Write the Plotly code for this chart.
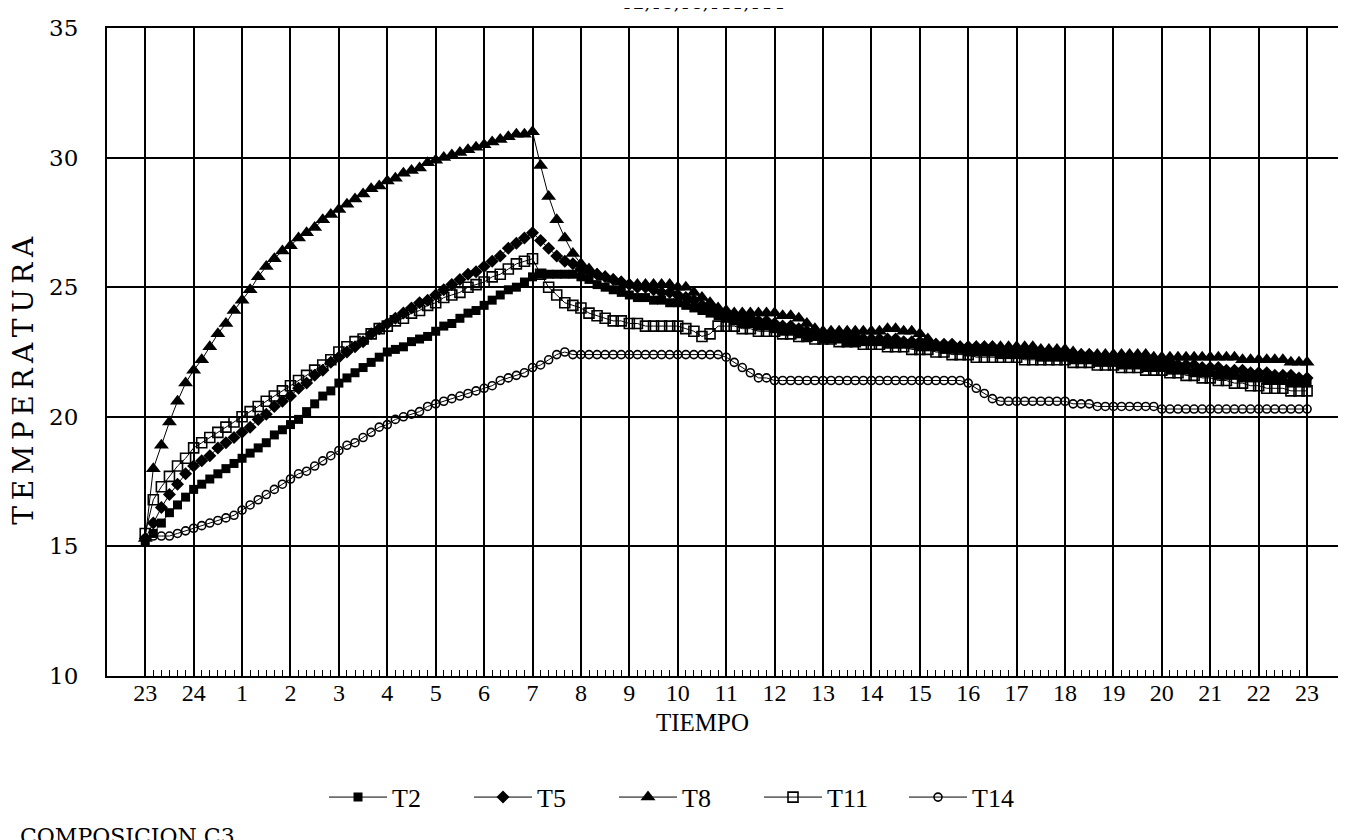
"""Temperaturas T2..T14 durante un ciclo de 24 h (lecturas cada 10 min)."""

import plotly.graph_objects as go

# lecturas cada 10 minutos desde las 23 h (145 valores, una fila por hora)
t2 = [
    15.2, 15.5, 15.9, 16.3, 16.6, 16.9,
    17.2, 17.4, 17.6, 17.8, 18.0, 18.2,
    18.4, 18.6, 18.8, 19.0, 19.3, 19.5,
    19.7, 19.9, 20.2, 20.5, 20.8, 21.0,
    21.3, 21.5, 21.7, 21.9, 22.1, 22.3,
    22.5, 22.6, 22.7, 22.9, 23.0, 23.1,
    23.3, 23.5, 23.6, 23.8, 24.0, 24.1,
    24.3, 24.5, 24.7, 24.9, 25.0, 25.2,
    25.4, 25.5, 25.5, 25.5, 25.5, 25.5,
    25.4, 25.3, 25.1, 25.0, 24.9, 24.8,
    24.7, 24.6, 24.6, 24.5, 24.5, 24.4,
    24.4, 24.3, 24.2, 24.1, 24.0, 23.9,
    23.8, 23.7, 23.6, 23.6, 23.5, 23.5,
    23.4, 23.3, 23.3, 23.2, 23.1, 23.1,
    23.0, 23.0, 23.0, 22.9, 22.9, 22.9,
    22.9, 22.9, 22.8, 22.8, 22.8, 22.8,
    22.7, 22.7, 22.7, 22.6, 22.6, 22.6,
    22.5, 22.5, 22.5, 22.5, 22.4, 22.4,
    22.4, 22.4, 22.4, 22.3, 22.3, 22.3,
    22.3, 22.2, 22.2, 22.2, 22.1, 22.1,
    22.1, 22.0, 22.0, 22.0, 21.9, 21.9,
    21.9, 21.8, 21.8, 21.8, 21.7, 21.7,
    21.7, 21.6, 21.6, 21.6, 21.5, 21.5,
    21.5, 21.4, 21.4, 21.4, 21.3, 21.3,
    21.3,
]
t5 = [
    15.3, 15.9, 16.5, 17.0, 17.4, 17.8,
    18.1, 18.3, 18.5, 18.8, 19.0, 19.2,
    19.4, 19.6, 19.9, 20.1, 20.4, 20.6,
    20.8, 21.1, 21.3, 21.6, 21.8, 22.1,
    22.3, 22.5, 22.7, 22.9, 23.2, 23.4,
    23.6, 23.8, 24.0, 24.2, 24.4, 24.5,
    24.7, 24.9, 25.1, 25.3, 25.5, 25.6,
    25.8, 26.0, 26.2, 26.5, 26.7, 26.9,
    27.1, 26.8, 26.5, 26.2, 26.0, 25.9,
    25.7, 25.6, 25.5, 25.4, 25.3, 25.2,
    25.1, 25.0, 25.0, 24.9, 24.8, 24.8,
    24.7, 24.6, 24.5, 24.3, 24.2, 24.1,
    24.0, 23.9, 23.8, 23.8, 23.7, 23.7,
    23.6, 23.5, 23.5, 23.4, 23.3, 23.3,
    23.2, 23.2, 23.1, 23.1, 23.1, 23.0,
    23.0, 23.0, 23.0, 23.0, 22.9, 22.9,
    22.9, 22.9, 22.8, 22.8, 22.8, 22.7,
    22.7, 22.7, 22.7, 22.7, 22.6, 22.6,
    22.6, 22.6, 22.6, 22.5, 22.5, 22.5,
    22.5, 22.4, 22.4, 22.4, 22.3, 22.3,
    22.3, 22.3, 22.2, 22.2, 22.2, 22.1,
    22.1, 22.1, 22.0, 22.0, 22.0, 21.9,
    21.9, 21.9, 21.8, 21.8, 21.8, 21.7,
    21.7, 21.7, 21.6, 21.6, 21.6, 21.5,
    21.5,
]
t8 = [
    15.3, 18.0, 18.9, 19.8, 20.6, 21.3,
    21.8, 22.2, 22.7, 23.2, 23.6, 24.1,
    24.5, 24.9, 25.4, 25.8, 26.1, 26.4,
    26.6, 26.9, 27.1, 27.3, 27.6, 27.8,
    28.0, 28.2, 28.4, 28.6, 28.8, 28.9,
    29.1, 29.2, 29.4, 29.5, 29.6, 29.8,
    29.9, 30.0, 30.1, 30.2, 30.3, 30.4,
    30.5, 30.6, 30.7, 30.8, 30.9, 30.9,
    31.0, 29.7, 28.5, 27.6, 26.9, 26.3,
    25.9, 25.7, 25.5, 25.4, 25.3, 25.2,
    25.1, 25.1, 25.1, 25.1, 25.1, 25.1,
    25.0, 25.0, 24.8, 24.6, 24.4, 24.2,
    24.1, 24.0, 24.0, 24.0, 24.0, 24.0,
    24.0, 23.9, 23.9, 23.8, 23.6, 23.4,
    23.3, 23.3, 23.3, 23.3, 23.3, 23.3,
    23.3, 23.3, 23.4, 23.4, 23.3, 23.3,
    23.2, 23.0, 22.8, 22.7, 22.7, 22.7,
    22.7, 22.7, 22.7, 22.7, 22.7, 22.7,
    22.7, 22.7, 22.7, 22.6, 22.6, 22.6,
    22.6, 22.5, 22.4, 22.4, 22.4, 22.4,
    22.4, 22.4, 22.4, 22.4, 22.4, 22.3,
    22.3, 22.3, 22.3, 22.3, 22.3, 22.3,
    22.3, 22.3, 22.3, 22.3, 22.2, 22.2,
    22.2, 22.2, 22.2, 22.2, 22.1, 22.1,
    22.1,
]
t11 = [
    15.5, 16.8, 17.3, 17.7, 18.1, 18.4,
    18.8, 19.0, 19.2, 19.4, 19.6, 19.8,
    20.0, 20.2, 20.4, 20.6, 20.8, 21.0,
    21.2, 21.4, 21.6, 21.8, 22.0, 22.2,
    22.5, 22.7, 22.9, 23.0, 23.2, 23.4,
    23.5, 23.7, 23.8, 24.0, 24.1, 24.3,
    24.4, 24.6, 24.7, 24.8, 25.0, 25.1,
    25.2, 25.4, 25.5, 25.7, 25.9, 26.0,
    26.1, 25.5, 25.0, 24.7, 24.4, 24.3,
    24.2, 24.0, 23.9, 23.8, 23.7, 23.7,
    23.6, 23.6, 23.5, 23.5, 23.5, 23.5,
    23.5, 23.4, 23.3, 23.1, 23.2, 23.5,
    23.5, 23.5, 23.4, 23.4, 23.3, 23.3,
    23.3, 23.2, 23.2, 23.1, 23.1, 23.0,
    23.0, 23.0, 22.9, 22.9, 22.9, 22.8,
    22.8, 22.8, 22.7, 22.7, 22.7, 22.6,
    22.6, 22.6, 22.5, 22.5, 22.4, 22.4,
    22.4, 22.3, 22.3, 22.3, 22.3, 22.3,
    22.3, 22.2, 22.2, 22.2, 22.2, 22.2,
    22.2, 22.1, 22.1, 22.1, 22.0, 22.0,
    22.0, 21.9, 21.9, 21.9, 21.8, 21.8,
    21.8, 21.7, 21.7, 21.6, 21.6, 21.5,
    21.5, 21.4, 21.4, 21.3, 21.3, 21.2,
    21.2, 21.1, 21.1, 21.1, 21.0, 21.0,
    21.0,
]
t14 = [
    15.3, 15.4, 15.4, 15.4, 15.5, 15.6,
    15.7, 15.8, 15.9, 16.0, 16.1, 16.2,
    16.4, 16.6, 16.8, 17.0, 17.2, 17.4,
    17.6, 17.8, 17.9, 18.1, 18.3, 18.5,
    18.7, 18.9, 19.0, 19.2, 19.4, 19.6,
    19.7, 19.9, 20.0, 20.1, 20.2, 20.4,
    20.5, 20.6, 20.7, 20.8, 20.9, 21.0,
    21.1, 21.2, 21.4, 21.5, 21.6, 21.7,
    21.9, 22.0, 22.2, 22.4, 22.5, 22.4,
    22.4, 22.4, 22.4, 22.4, 22.4, 22.4,
    22.4, 22.4, 22.4, 22.4, 22.4, 22.4,
    22.4, 22.4, 22.4, 22.4, 22.4, 22.4,
    22.3, 22.1, 21.9, 21.7, 21.5, 21.5,
    21.4, 21.4, 21.4, 21.4, 21.4, 21.4,
    21.4, 21.4, 21.4, 21.4, 21.4, 21.4,
    21.4, 21.4, 21.4, 21.4, 21.4, 21.4,
    21.4, 21.4, 21.4, 21.4, 21.4, 21.4,
    21.3, 21.1, 20.9, 20.7, 20.6, 20.6,
    20.6, 20.6, 20.6, 20.6, 20.6, 20.6,
    20.6, 20.5, 20.5, 20.5, 20.4, 20.4,
    20.4, 20.4, 20.4, 20.4, 20.4, 20.4,
    20.3, 20.3, 20.3, 20.3, 20.3, 20.3,
    20.3, 20.3, 20.3, 20.3, 20.3, 20.3,
    20.3, 20.3, 20.3, 20.3, 20.3, 20.3,
    20.3,
]

hour_labels = ["23", "24", "1", "2", "3", "4", "5", "6", "7", "8", "9", "10", "11",
               "12", "13", "14", "15", "16", "17", "18", "19", "20", "21", "22", "23"]
step_minutes = 10

hours = [i * step_minutes / 60 for i in range(len(t2))]

series = [
    ("T2", t2, dict(symbol="square", size=9)),
    ("T5", t5, dict(symbol="diamond", size=10)),
    ("T8", t8, dict(symbol="triangle-up", size=13)),
    ("T11", t11, dict(symbol="square-open", size=10, line=dict(width=1.6, color="black"))),
    ("T14", t14, dict(symbol="circle-open", size=8, line=dict(width=1.6, color="black"))),
]

fig = go.Figure()
for name, vals, mk in series:
    fig.add_trace(go.Scatter(
        x=hours, y=vals, name=name, mode="lines+markers",
        line=dict(color="black", width=1),
        marker=dict(color="black", **mk),
    ))

serif = "Liberation Serif, Times New Roman, serif"
wide = "DejaVu Serif, serif"
thin = "\u2009"

# la página añade 8 px de margen al body: figura algo menor para que quepa
fig.update_layout(
    width=1338, height=832,
    margin=dict(l=99, r=6, t=20, b=164, autoexpand=False),
    paper_bgcolor="white", plot_bgcolor="white",
    font=dict(family=serif, color="black", size=22),
    showlegend=True,
    legend=dict(orientation="h", x=0.176, xanchor="left", y=-0.187, yanchor="middle",
                entrywidth=72, itemwidth=58, font=dict(family=serif, size=26),
                bgcolor="rgba(0,0,0,0)"),
    annotations=[
        dict(text=thin.join("TEMPERATURA"), xref="paper", yref="paper", x=-0.0675, y=0.457,
             xanchor="center", yanchor="middle", textangle=-90, showarrow=False,
             font=dict(family=wide, size=28)),
        dict(text="TIEMPO", xref="paper", yref="paper", x=0.483, y=-0.071,
             xanchor="center", yanchor="middle", showarrow=False,
             font=dict(family=serif, size=25)),
        dict(text="T2,T5,T8,T11,T14", xref="paper", yref="paper", x=0.483, y=1 + 26 / 648,
             xanchor="center", yanchor="middle", showarrow=False,
             font=dict(family=wide, size=18)),
        dict(text="COMPOSICION C3", xref="paper", yref="paper", x=-0.0722, y=-0.2253,
             xanchor="left", yanchor="top", showarrow=False,
             font=dict(family=wide, size=22)),
    ],
)

fig.update_xaxes(
    range=[-0.79, 24.68], automargin=False,
    tickmode="array", tickvals=list(range(len(hour_labels))), ticktext=hour_labels,
    ticks="", showgrid=True, gridcolor="black", gridwidth=1.5, zeroline=False,
    showline=True, linecolor="black", linewidth=2, mirror=True,
    tickfont=dict(family=serif, size=24), ticklabelstandoff=-6,
    minor=dict(tickmode="array", tickvals=hours, ticks="inside", ticklen=6,
               tickwidth=1, tickcolor="black", showgrid=False),
)
fig.update_yaxes(
    range=[10, 35], automargin=False, tickmode="array", tickvals=[10, 15, 20, 25, 30, 35],
    ticks="", showgrid=True, gridcolor="black", gridwidth=1.5, zeroline=False,
    showline=True, linecolor="black", linewidth=2, mirror=True,
    tickfont=dict(family=wide, size=23), ticklabelstandoff=22,
)

fig.write_html("out.html")
